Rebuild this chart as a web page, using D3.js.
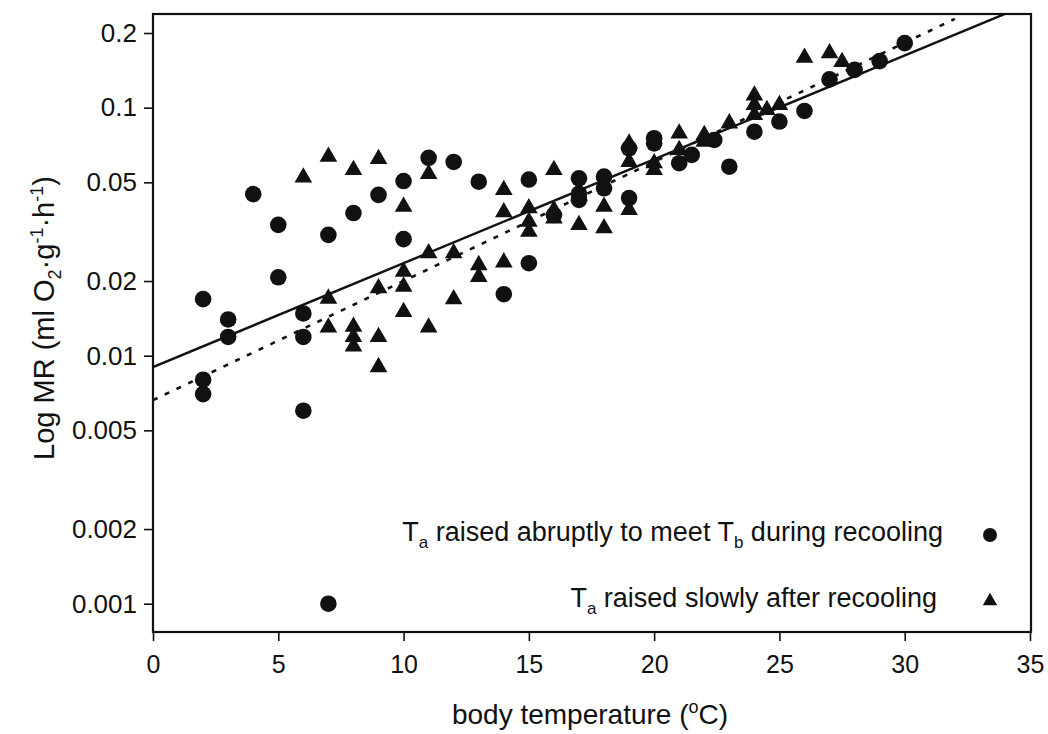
<!DOCTYPE html>
<html>
<head>
<meta charset="utf-8">
<script src="https://cdn.jsdelivr.net/npm/d3@7/dist/d3.min.js"></script>
<style>
  html, body { margin: 0; padding: 0; background: #fff; }
  svg { display: block; font-family: "Liberation Sans", Arial, sans-serif; }
</style>
</head>
<body>
<svg id="chart" width="1048" height="734"></svg>
<script>
// ---- Data ----
// Series 1: Ta raised abruptly to meet Tb during recooling (circles)
const abruptTb = [2,2,2,3,3,4,5,5,6,6,6,7,7,8,9,10,10,11,12,13,14,15,15,16,17,17,17,18,18,19,19,20,20,21,21.5,22.4,23,24,25,26,27,28,29,30];
const abruptMR = [0.0169,0.0080,0.0070,0.0140,0.0119,0.0448,0.0337,0.0207,0.0148,0.0119,0.0060,0.0307,0.0010,0.0376,0.0445,0.0506,0.0295,0.0628,0.0604,0.0503,0.0177,0.0513,0.0236,0.0369,0.0519,0.0450,0.0425,0.0527,0.0473,0.0686,0.0432,0.0753,0.0718,0.0597,0.0645,0.0741,0.0578,0.0800,0.0879,0.0970,0.1300,0.1420,0.1540,0.1820];

// Series 2: Ta raised slowly after recooling (triangles)
const slowTb = [6,7,7,7,8,8,8,8,9,9,9,9,10,10,10,10,11,11,11,12,12,13,13,14,14,14,15,15,15,16,16,16,17,17,18,18,19,19,19,20,20,21,21,22,22,23,24,24,24,24.5,25,26,27,27.5];
const slowMR = [0.0523,0.0634,0.0170,0.0130,0.0561,0.0131,0.0119,0.0109,0.0621,0.0187,0.0119,0.0090,0.0399,0.0218,0.0190,0.0150,0.0541,0.0259,0.0130,0.0259,0.0169,0.0232,0.0208,0.0466,0.0379,0.0238,0.0393,0.0347,0.0316,0.0561,0.0387,0.0358,0.0337,0.0440,0.0399,0.0327,0.0718,0.0605,0.0387,0.0597,0.0561,0.0788,0.0675,0.0776,0.0729,0.0865,0.1120,0.1026,0.0935,0.0979,0.1026,0.1590,0.1660,0.1530];

// Regression lines: [Tb, MR] end points
const fitSolid = [[0, 0.0090], [35, 0.263]];
const fitDotted = [[0, 0.00662], [32, 0.228]];

// Axis ticks
const xTicks = [0,5,10,15,20,25,30,35];
const yTicks = [0.001,0.002,0.005,0.01,0.02,0.05,0.1,0.2];
const yTickLabels = ["0.001","0.002","0.005","0.01","0.02","0.05","0.1","0.2"];

// ---- Layout ----
const L = 153, R = 1031, T = 14, B = 632;
const svg = d3.select("#chart");

const x = d3.scaleLinear().domain([0, 35]).range([L, 1030]);
const y = d3.scaleLog().domain([0.000769, 0.2386]).range([B, T]);

svg.append("rect").attr("width", 1048).attr("height", 734).attr("fill", "#fff");

svg.append("defs").append("clipPath").attr("id", "plotClip")
  .append("rect").attr("x", L).attr("y", T).attr("width", R - L).attr("height", B - T);

// axes
const xAxis = d3.axisBottom(x).tickValues(xTicks).tickSize(9).tickPadding(14).tickFormat(d3.format("d"));
const gx = svg.append("g").attr("transform", `translate(0,${B})`).call(xAxis);
gx.select(".domain").remove();
gx.selectAll("line").attr("stroke", "#111").attr("stroke-width", 1.6);
gx.selectAll("text").attr("font-size", 25).attr("fill", "#111");

const yAxis = d3.axisLeft(y).tickValues(yTicks).tickSize(9).tickPadding(7)
  .tickFormat((d, i) => yTickLabels[i]);
const gy = svg.append("g").attr("transform", `translate(${L},0)`).call(yAxis);
gy.select(".domain").remove();
gy.selectAll("line").attr("stroke", "#111").attr("stroke-width", 1.6);
gy.selectAll("text").attr("font-size", 26).attr("fill", "#111");

// frame
svg.append("rect").attr("x", L).attr("y", T).attr("width", R - L).attr("height", B - T)
  .attr("fill", "none").attr("stroke", "#111").attr("stroke-width", 2.2);

// regression lines
const line = d3.line().x(d => x(d[0])).y(d => y(d[1]));
const gl = svg.append("g").attr("clip-path", "url(#plotClip)");
gl.append("path").attr("d", line(fitSolid)).attr("fill", "none")
  .attr("stroke", "#111").attr("stroke-width", 2.4);
gl.append("path").attr("d", line(fitDotted)).attr("fill", "none")
  .attr("stroke", "#111").attr("stroke-width", 2.6).attr("stroke-dasharray", "5,8");

// points
const circ = d3.symbol().type(d3.symbolCircle).size(Math.PI * 8.3 * 8.3);
const tri = d3.symbol().type(d3.symbolTriangle).size(135);

svg.append("g").selectAll("path").data(slowTb.map((t, i) => [t, slowMR[i]]))
  .join("path").attr("d", tri).attr("fill", "#111")
  .attr("transform", d => `translate(${x(d[0])},${y(d[1])})`);

svg.append("g").selectAll("path").data(abruptTb.map((t, i) => [t, abruptMR[i]]))
  .join("path").attr("d", circ).attr("fill", "#111")
  .attr("transform", d => `translate(${x(d[0])},${y(d[1])})`);

// legend
const leg = svg.append("g").attr("font-size", 27).attr("fill", "#111");
const t1 = leg.append("text").attr("x", 943).attr("y", 541).attr("text-anchor", "end");
t1.append("tspan").text("T");
t1.append("tspan").attr("font-size", 17).attr("dy", 7).text("a");
t1.append("tspan").attr("dy", -7).text(" raised abruptly to meet T");
t1.append("tspan").attr("font-size", 17).attr("dy", 7).text("b");
t1.append("tspan").attr("dy", -7).text(" during recooling");
leg.append("path").attr("d", d3.symbol().type(d3.symbolCircle).size(Math.PI * 7 * 7))
  .attr("transform", "translate(990,535)").attr("fill", "#111");

const t2 = leg.append("text").attr("x", 937).attr("y", 607).attr("text-anchor", "end");
t2.append("tspan").text("T");
t2.append("tspan").attr("font-size", 17).attr("dy", 7).text("a");
t2.append("tspan").attr("dy", -7).text(" raised slowly after recooling");
leg.append("path").attr("d", d3.symbol().type(d3.symbolTriangle).size(90))
  .attr("transform", "translate(990,601)").attr("fill", "#111");

// axis titles
const xt = svg.append("text").attr("x", 590).attr("y", 724).attr("text-anchor", "middle")
  .attr("font-size", 28).attr("fill", "#111");
xt.append("tspan").text("body temperature (");
xt.append("tspan").attr("font-size", 18).attr("dy", -11).text("o");
xt.append("tspan").attr("dy", 11).text("C)");

const yt = svg.append("text").attr("transform", "translate(54,318) rotate(-90)")
  .attr("text-anchor", "middle").attr("font-size", 29).attr("fill", "#111");
yt.append("tspan").text("Log MR (ml O");
yt.append("tspan").attr("font-size", 18).attr("dy", 7).text("2");
yt.append("tspan").attr("dy", -7).text("·g");
yt.append("tspan").attr("font-size", 18).attr("dy", -11).text("-1");
yt.append("tspan").attr("dy", 11).text("·h");
yt.append("tspan").attr("font-size", 18).attr("dy", -11).text("-1");
yt.append("tspan").attr("dy", 11).text(")");
</script>
</body>
</html>
